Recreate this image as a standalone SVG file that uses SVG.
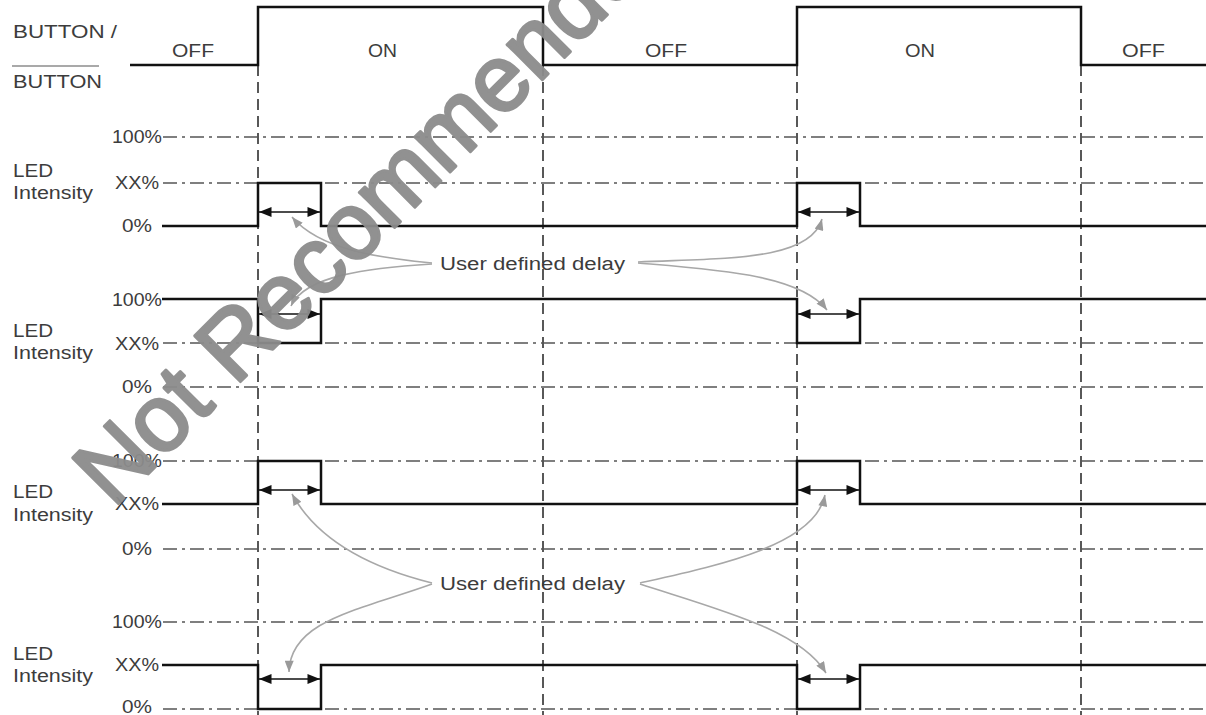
<svg xmlns="http://www.w3.org/2000/svg" width="1206" height="715" viewBox="0 0 1206 715">
<style>
text{font-family:"Liberation Sans",Arial,sans-serif;font-size:18px;fill:#3c3c3c}
.sig{fill:none;stroke:#111;stroke-width:2.5;stroke-linejoin:miter}
.grid{fill:none;stroke:#555;stroke-width:1.6;stroke-dasharray:14 5 3 5}
.vd{fill:none;stroke:#222;stroke-width:1.5;stroke-dasharray:11 6}
.dim{fill:none;stroke:#111;stroke-width:1.6;marker-start:url(#ah);marker-end:url(#ah)}
.co{fill:none;stroke:#a8a8a8;stroke-width:1.6;marker-end:url(#ga)}
.wm{font-size:94px;fill:#8c8c8c;stroke:#8c8c8c;stroke-width:3;stroke-linejoin:round;opacity:0.95}
</style>
<defs>
<marker id="ah" viewBox="0 0 10 8" refX="10" refY="4" markerWidth="13" markerHeight="10" markerUnits="userSpaceOnUse" orient="auto-start-reverse">
<path d="M0,0 L10,4 L0,8 Z" fill="#111"/>
</marker>
<marker id="ga" viewBox="0 0 10 8" refX="10" refY="4" markerWidth="12" markerHeight="9" markerUnits="userSpaceOnUse" orient="auto">
<path d="M0,0 L10,4 L0,8 Z" fill="#9a9a9a"/>
</marker>
</defs>
<rect width="1206" height="715" fill="#fff"/>

<g id="verticals">
<line class="vd" x1="258" y1="65" x2="258" y2="715"/>
<line class="vd" x1="543" y1="65" x2="543" y2="715"/>
<line class="vd" x1="797" y1="65" x2="797" y2="715"/>
<line class="vd" x1="1081" y1="65" x2="1081" y2="715"/>
</g>

<g id="button">
<text x="13" y="38" textLength="104" lengthAdjust="spacingAndGlyphs">BUTTON /</text>
<line x1="12" y1="66" x2="99" y2="66" stroke="#555" stroke-width="1.2"/>
<text x="13" y="88" textLength="89" lengthAdjust="spacingAndGlyphs">BUTTON</text>
<text x="172" y="57" textLength="42" lengthAdjust="spacingAndGlyphs">OFF</text>
<text x="368" y="57" textLength="29" lengthAdjust="spacingAndGlyphs">ON</text>
<text x="645" y="57" textLength="42" lengthAdjust="spacingAndGlyphs">OFF</text>
<text x="905" y="57" textLength="30" lengthAdjust="spacingAndGlyphs">ON</text>
<text x="1122" y="57" textLength="43" lengthAdjust="spacingAndGlyphs">OFF</text>
<path class="sig" d="M130,65 H258 V7 H543 V65 H797 V7 H1081 V65 H1206"/>
</g>

<g id="panel1">
<line class="grid" x1="163" y1="137" x2="1206" y2="137"/>
<line class="grid" x1="163" y1="183" x2="1206" y2="183" stroke="#333"/>
<text x="112" y="143" textLength="50" lengthAdjust="spacingAndGlyphs">100%</text>
<text x="115" y="189" textLength="44" lengthAdjust="spacingAndGlyphs">XX%</text>
<text x="122" y="232" textLength="30" lengthAdjust="spacingAndGlyphs">0%</text>
<text x="13" y="177" textLength="40" lengthAdjust="spacingAndGlyphs">LED</text>
<text x="13" y="199" textLength="80" lengthAdjust="spacingAndGlyphs">Intensity</text>
<path class="sig" d="M162,226 H258 V183 H321 V226 H797 V183 H860 V226 H1206"/>
<line class="dim" x1="259" y1="212" x2="320" y2="212"/>
<line class="dim" x1="798" y1="212" x2="859" y2="212"/>
</g>

<g id="panel2">
<line class="grid" x1="163" y1="343" x2="1206" y2="343"/>
<line class="grid" x1="163" y1="387" x2="1206" y2="387"/>
<text x="112" y="306" textLength="50" lengthAdjust="spacingAndGlyphs">100%</text>
<text x="115" y="350" textLength="44" lengthAdjust="spacingAndGlyphs">XX%</text>
<text x="122" y="393" textLength="30" lengthAdjust="spacingAndGlyphs">0%</text>
<text x="13" y="337" textLength="40" lengthAdjust="spacingAndGlyphs">LED</text>
<text x="13" y="359" textLength="80" lengthAdjust="spacingAndGlyphs">Intensity</text>
<path class="sig" d="M162,299 H258 V343 H321 V299 H797 V343 H860 V299 H1206"/>
<line class="dim" x1="259" y1="314" x2="320" y2="314"/>
<line class="dim" x1="798" y1="314" x2="859" y2="314"/>
</g>

<g id="panel3">
<line class="grid" x1="163" y1="461" x2="1206" y2="461"/>
<line class="grid" x1="163" y1="549" x2="1206" y2="549"/>
<text x="112" y="467" textLength="50" lengthAdjust="spacingAndGlyphs">100%</text>
<text x="115" y="510" textLength="44" lengthAdjust="spacingAndGlyphs">XX%</text>
<text x="122" y="555" textLength="30" lengthAdjust="spacingAndGlyphs">0%</text>
<text x="13" y="498" textLength="40" lengthAdjust="spacingAndGlyphs">LED</text>
<text x="13" y="521" textLength="80" lengthAdjust="spacingAndGlyphs">Intensity</text>
<path class="sig" d="M162,504 H258 V461 H321 V504 H797 V461 H860 V504 H1206"/>
<line class="dim" x1="259" y1="490" x2="320" y2="490"/>
<line class="dim" x1="798" y1="490" x2="859" y2="490"/>
</g>

<g id="panel4">
<line class="grid" x1="163" y1="622" x2="1206" y2="622"/>
<line class="grid" x1="163" y1="709" x2="1206" y2="709"/>
<text x="112" y="628" textLength="50" lengthAdjust="spacingAndGlyphs">100%</text>
<text x="115" y="671" textLength="44" lengthAdjust="spacingAndGlyphs">XX%</text>
<text x="122" y="713" textLength="30" lengthAdjust="spacingAndGlyphs">0%</text>
<text x="13" y="660" textLength="40" lengthAdjust="spacingAndGlyphs">LED</text>
<text x="13" y="682" textLength="80" lengthAdjust="spacingAndGlyphs">Intensity</text>
<path class="sig" d="M162,665 H258 V709 H321 V665 H797 V709 H860 V665 H1206"/>
<line class="dim" x1="259" y1="679" x2="320" y2="679"/>
<line class="dim" x1="798" y1="679" x2="859" y2="679"/>
</g>

<g id="label-delay-1">
<text x="440" y="270" textLength="185" lengthAdjust="spacingAndGlyphs">User defined delay</text>
</g>
<g id="label-delay-2">
<text x="440" y="590" textLength="185" lengthAdjust="spacingAndGlyphs">User defined delay</text>
</g>

<g id="connectors">
<path class="co" d="M432,263 C380,258 320,250 292,217"/>
<path class="co" d="M432,264 C370,268 305,275 291,306"/>
<path class="co" d="M638,262 C720,258 810,262 822,219"/>
<path class="co" d="M638,263 C720,270 800,275 827,310"/>
<path class="co" d="M432,583 C380,570 320,545 292,494"/>
<path class="co" d="M432,584 C360,610 290,620 289,672"/>
<path class="co" d="M640,583 C720,565 815,545 825,495"/>
<path class="co" d="M640,584 C720,610 800,630 826,673"/>
</g>

<g id="watermark">
<text class="wm" transform="translate(113,509) rotate(-45)">Not Recommended</text>
</g>
</svg>
